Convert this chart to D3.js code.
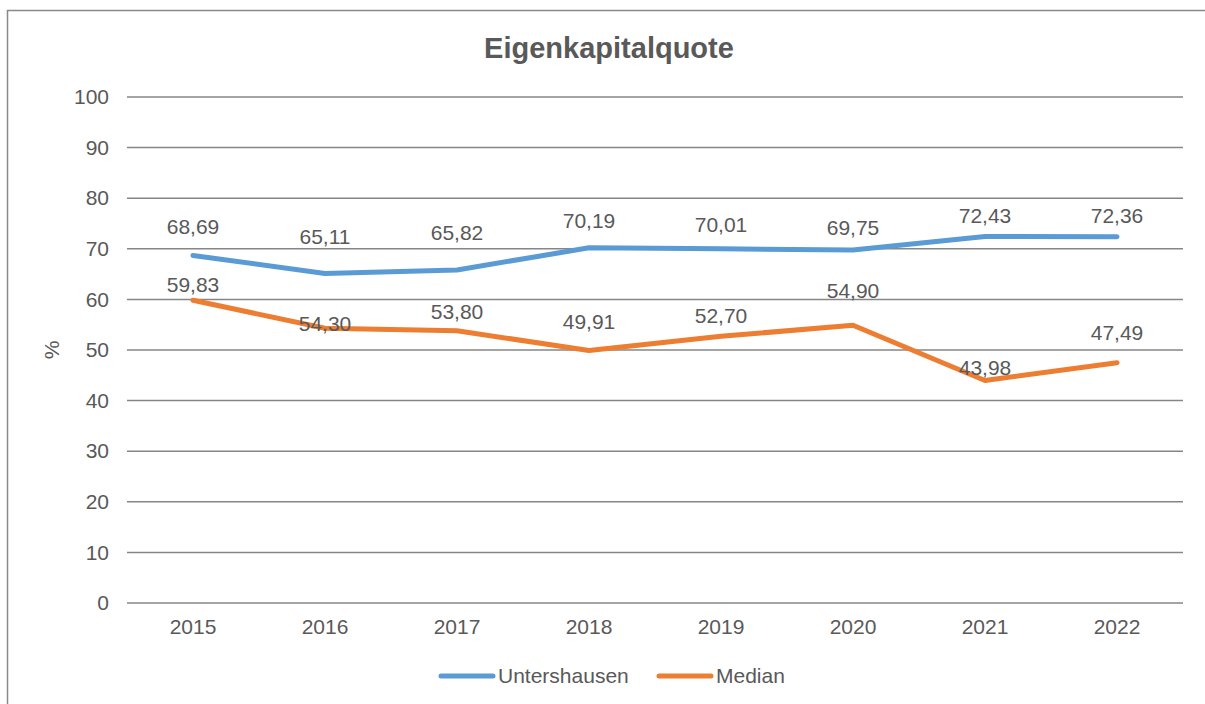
<!DOCTYPE html>
<html>
<head>
<meta charset="utf-8">
<script src="https://cdn.jsdelivr.net/npm/d3@7"></script>
<style>
  body { margin: 0; background: #fff; }
  text { font-family: "Liberation Sans", Arial, sans-serif; fill: #595959; }
</style>
</head>
<body>
<div id="chart"></div>
<script>
// data
var years = ["2015", "2016", "2017", "2018", "2019", "2020", "2021", "2022"];
var untershausen = [68.69, 65.11, 65.82, 70.19, 70.01, 69.75, 72.43, 72.36];
var median = [59.83, 54.30, 53.80, 49.91, 52.70, 54.90, 43.98, 47.49];
var yTicks = [0, 10, 20, 30, 40, 50, 60, 70, 80, 90, 100];

var W = 1205, H = 704;
var margin = {top: 97, left: 127, right: 22, bottom: 101};
var fs = "21px";

var svg = d3.select("#chart").append("svg")
    .attr("width", W)
    .attr("height", H);

// chart frame
svg.append("rect")
    .attr("x", 7.5).attr("y", 10.5)
    .attr("width", W + 10).attr("height", H + 10)
    .attr("fill", "none")
    .attr("stroke", "#898989")
    .attr("stroke-width", 1.5);

var x = d3.scaleBand()
    .domain(years)
    .range([margin.left, W - margin.right]);
var y = d3.scaleLinear()
    .domain([0, 100])
    .range([H - margin.bottom, margin.top]);

// gridlines
svg.append("g")
    .selectAll("line")
    .data(yTicks)
    .enter().append("line")
    .attr("x1", margin.left).attr("x2", W - margin.right)
    .attr("y1", function(d) { return y(d); })
    .attr("y2", function(d) { return y(d); })
    .attr("stroke", "#868686")
    .attr("stroke-width", 1.5);

// y axis labels
var yAxis = svg.append("g")
    .attr("transform", "translate(" + (margin.left - 18) + ",0)")
    .call(d3.axisLeft(y).tickValues(yTicks).tickSize(0).tickPadding(0));
yAxis.select(".domain").remove();
yAxis.selectAll("text")
    .style("font-size", fs)
    .attr("font-family", null)
    .attr("fill", "#595959");

// x axis labels
var xAxis = svg.append("g")
    .attr("transform", "translate(0," + (H - margin.bottom) + ")")
    .call(d3.axisBottom(x).tickSize(0).tickPadding(16));
xAxis.select(".domain").remove();
xAxis.selectAll("text")
    .style("font-size", fs)
    .attr("font-family", null)
    .attr("fill", "#595959");

// y title
svg.append("text")
    .attr("transform", "translate(59," + y(50) + ") rotate(-90)")
    .attr("text-anchor", "middle")
    .style("font-size", fs)
    .text("%");

// title
svg.append("text")
    .attr("x", 609).attr("y", 58)
    .attr("text-anchor", "middle")
    .style("font-size", "29px")
    .style("font-weight", "bold")
    .text("Eigenkapitalquote");

var series = [
  {name: "Untershausen", values: untershausen, color: "#5B9BD5",
   lift: [29, 37, 37, 27, 24, 22, 21, 21]},
  {name: "Median", values: median, color: "#ED7D31",
   lift: [16, 5, 19, 29, 21, 35, 13, 30]}
];

var line = d3.line()
    .x(function(d, i) { return x(years[i]) + x.bandwidth() / 2; })
    .y(function(d) { return y(d); });

series.forEach(function(s) {
  svg.append("path")
      .datum(s.values)
      .attr("d", line)
      .attr("fill", "none")
      .attr("stroke", s.color)
      .attr("stroke-width", 5)
      .attr("stroke-linecap", "round")
      .attr("stroke-linejoin", "round");

  svg.append("g")
      .selectAll("text")
      .data(s.values)
      .enter().append("text")
      .attr("x", function(d, i) { return x(years[i]) + x.bandwidth() / 2; })
      .attr("y", function(d, i) { return y(d) - s.lift[i]; })
      .attr("dy", "0.35em")
      .attr("text-anchor", "middle")
      .style("font-size", fs)
      .text(function(d) { return d.toFixed(2).replace(".", ","); });
});

// legend
var legend = svg.append("g").attr("transform", "translate(0,676)");
var lx = [441, 659];
series.forEach(function(s, i) {
  legend.append("line")
      .attr("x1", lx[i]).attr("x2", lx[i] + 52)
      .attr("stroke", s.color)
      .attr("stroke-width", 5)
      .attr("stroke-linecap", "round");
  legend.append("text")
      .attr("x", lx[i] + 57)
      .attr("dy", "0.35em")
      .style("font-size", fs)
      .text(s.name);
});
</script>
</body>
</html>
